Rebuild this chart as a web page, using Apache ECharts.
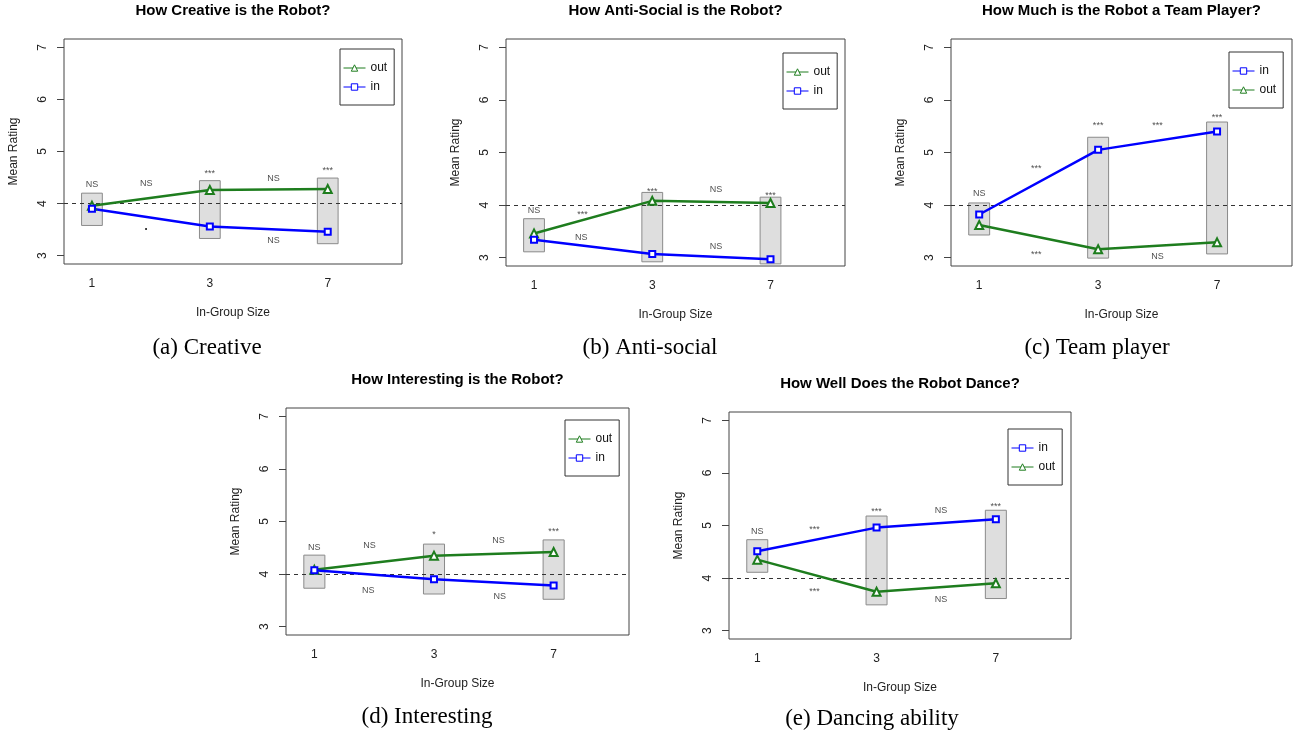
<!DOCTYPE html>
<html><head><meta charset="utf-8">
<script src="https://cdn.jsdelivr.net/npm/echarts@6/dist/echarts.min.js"></script>
<style>html,body{margin:0;padding:0;background:#fff}#c{width:1294px;height:738px}</style>
</head><body><div id="c"></div>
<script>
// ---------- DATA ----------
const xLabels = ['1', '3', '7'];
const xPositions = [1, 2, 3];
const yTicks = [3, 4, 5, 6, 7];
const referenceLine = 4;

// (a) Creative
const creativeOut = [3.96, 4.26, 4.28];
const creativeIn = [3.90, 3.56, 3.46];
const creativeLow = [3.58, 3.33, 3.23];
const creativeHigh = [4.20, 4.44, 4.49];
const creativeSig = [[1, 4.36, 'NS'], [1.46, 4.39, 'NS'], [1.46, 3.48, '.'], [2, 4.64, '***'], [2.54, 4.48, 'NS'], [3, 4.70, '***'], [2.54, 3.30, 'NS']];

// (b) Anti-social
const antiOut = [3.46, 4.08, 4.04];
const antiIn = [3.34, 3.07, 2.97];
const antiLow = [3.11, 2.92, 2.88];
const antiHigh = [3.74, 4.24, 4.15];
const antiSig = [[1, 3.89, 'NS'], [1.41, 3.87, '***'], [1.40, 3.38, 'NS'], [2, 4.32, '***'], [2.54, 4.29, 'NS'], [3, 4.24, '***'], [2.54, 3.22, 'NS']];

// (c) Team player
const teamIn = [3.82, 5.05, 5.40];
const teamOut = [3.62, 3.16, 3.29];
const teamLow = [3.43, 2.99, 3.07];
const teamHigh = [4.04, 5.29, 5.58];
const teamSig = [[1, 4.21, 'NS'], [1.48, 4.75, '***'], [1.48, 3.12, '***'], [2, 5.58, '***'], [2.50, 5.58, '***'], [3, 5.73, '***'], [2.50, 3.02, 'NS']];

// (d) Interesting
const interOut = [4.08, 4.35, 4.42];
const interIn = [4.07, 3.90, 3.78];
const interLow = [3.73, 3.62, 3.52];
const interHigh = [4.36, 4.57, 4.65];
const interSig = [[1, 4.51, 'NS'], [1.46, 4.55, 'NS'], [1.45, 3.69, 'NS'], [2, 4.80, '*'], [2.54, 4.64, 'NS'], [3, 4.86, '***'], [2.55, 3.58, 'NS']];

// (e) Dancing ability
const danceIn = [4.51, 4.96, 5.12];
const danceOut = [4.35, 3.74, 3.90];
const danceLow = [4.11, 3.49, 3.61];
const danceHigh = [4.73, 5.18, 5.29];
const danceSig = [[1, 4.89, 'NS'], [1.48, 4.98, '***'], [1.48, 3.80, '***'], [2, 5.32, '***'], [2.54, 5.29, 'NS'], [3, 5.41, '***'], [2.54, 3.59, 'NS']];

const titles = ['How Creative is the Robot?', 'How Anti-Social is the Robot?', 'How Much is the Robot a Team Player?', 'How Interesting is the Robot?', 'How Well Does the Robot Dance?'];
const captions = ['(a) Creative', '(b) Anti-social', '(c) Team player', '(d) Interesting', '(e) Dancing ability'];
const legendOrders = [['out', 'in'], ['out', 'in'], ['in', 'out'], ['out', 'in'], ['in', 'out']];
const yAxisName = 'Mean Rating';
const xAxisName = 'In-Group Size';

// ---------- LAYOUT / STYLE ----------
const panels = [
  { box: [64, 39, 338, 225], legend: [340, 49], caption: [207, 348], out: creativeOut, inn: creativeIn, low: creativeLow, high: creativeHigh, sig: creativeSig },
  { box: [506, 39, 339, 227], legend: [783, 53], caption: [650, 348], out: antiOut, inn: antiIn, low: antiLow, high: antiHigh, sig: antiSig },
  { box: [951, 39, 341, 227], legend: [1229, 52], caption: [1097, 348], out: teamOut, inn: teamIn, low: teamLow, high: teamHigh, sig: teamSig },
  { box: [286, 408, 343, 227], legend: [565, 420], caption: [427, 717], out: interOut, inn: interIn, low: interLow, high: interHigh, sig: interSig },
  { box: [729, 412, 342, 227], legend: [1008, 429], caption: [872, 719], out: danceOut, inn: danceIn, low: danceLow, high: danceHigh, sig: danceSig }
];
const X_MIN = 0.763, X_MAX = 3.63, Y_MIN = 2.84, Y_MAX = 7.16;
const BOX_HALF = 0.088;
const GREEN = '#1e7d1e', BLUE = '#0000ff';
const SANS = 'Liberation Sans, Arial, Helvetica, sans-serif';
const SERIF = 'Liberation Serif, Times New Roman, serif';

const grid = [], xAxis = [], yAxis = [], series = [], legend = [], graphic = [];

panels.forEach((p, i) => {
  const [l, t, w, h] = p.box;
  grid.push({ left: l, top: t, width: w, height: h, show: true, borderColor: '#444', borderWidth: 1, backgroundColor: 'transparent' });
  xAxis.push({
    gridIndex: i, type: 'value', min: X_MIN, max: X_MAX,
    axisLine: { show: false }, axisTick: { show: false }, splitLine: { show: false },
    axisLabel: { customValues: xPositions, margin: 14, color: '#222', fontSize: 12, fontFamily: SANS,
      formatter: v => xLabels[xPositions.indexOf(Math.round(v))] }
  });
  yAxis.push({
    gridIndex: i, type: 'value', min: Y_MIN, max: Y_MAX,
    axisLine: { show: false }, splitLine: { show: false },
    axisTick: { show: true, customValues: yTicks, length: 7, lineStyle: { color: '#444' } },
    axisLabel: { customValues: yTicks, rotate: 90, margin: 15, color: '#222', fontSize: 12, fontFamily: SANS }
  });
  series.push({
    type: 'custom', xAxisIndex: i, yAxisIndex: i, z: 1, silent: true,
    data: xPositions.map((x, j) => [x, p.low[j], p.high[j]]),
    renderItem: (params, api) => {
      const x = api.value(0);
      const a = api.coord([x - BOX_HALF, api.value(2)]);
      const b = api.coord([x + BOX_HALF, api.value(1)]);
      return { type: 'rect', shape: { x: a[0], y: a[1], width: b[0] - a[0], height: b[1] - a[1] },
        style: { fill: '#dedede', stroke: '#8a8a8a', lineWidth: 1 } };
    }
  });
  series.push({
    type: 'line', name: 'out', xAxisIndex: i, yAxisIndex: i, z: 3,
    data: xPositions.map((x, j) => [x, p.out[j]]),
    symbol: 'triangle', symbolSize: 8, showAllSymbol: true,
    lineStyle: { color: GREEN, width: 2.5 },
    itemStyle: { color: '#fff', borderColor: GREEN, borderWidth: 2 },
    emphasis: { disabled: true },
    markLine: { silent: true, symbol: 'none', label: { show: false }, z: 2,
      lineStyle: { color: '#333', width: 1, type: [4, 4] }, data: [{ yAxis: referenceLine }] }
  });
  series.push({
    type: 'line', name: 'in', xAxisIndex: i, yAxisIndex: i, z: 3,
    data: xPositions.map((x, j) => [x, p.inn[j]]),
    symbol: 'rect', symbolSize: 6, showAllSymbol: true,
    lineStyle: { color: BLUE, width: 2.5 },
    itemStyle: { color: '#fff', borderColor: BLUE, borderWidth: 2 },
    emphasis: { disabled: true }
  });
  series.push({
    type: 'scatter', xAxisIndex: i, yAxisIndex: i, z: 4, symbolSize: 0, silent: true,
    data: p.sig.map(s => ({
      value: [s[0], s[1]], name: s[2],
      label: s[2] === '.' ? { offset: [0, -4], fontSize: 13, fontWeight: 'bold', color: '#000' }
        : { offset: s[2].indexOf('*') >= 0 ? [0, 3] : [0, 0] }
    })),
    label: { show: true, position: 'inside', formatter: q => q.name, fontSize: 9, color: '#222', fontFamily: SANS }
  });
  legend.push({
    left: p.legend[0], top: p.legend[1], orient: 'vertical', selectedMode: false,
    data: legendOrders[i], borderColor: '#333', borderWidth: 1, padding: [12, 7, 11, 3],
    itemWidth: 22, itemHeight: 8, itemGap: 5,
    lineStyle: { width: 1 }, itemStyle: { borderWidth: 1 },
    textStyle: { fontSize: 12, color: '#111', fontFamily: SANS, lineHeight: 14 }
  });
  const cx = l + w / 2;
  graphic.push({ type: 'text', x: cx, y: t - 28, style: { text: titles[i], align: 'center', verticalAlign: 'middle', fill: '#000', font: 'bold 15px ' + SANS } });
  graphic.push({ type: 'text', x: cx, y: t + h + 49, style: { text: xAxisName, align: 'center', verticalAlign: 'middle', fill: '#222', font: '12px ' + SANS } });
  graphic.push({ type: 'text', x: l - 50, y: t + h / 2, rotation: Math.PI / 2, style: { text: yAxisName, align: 'center', verticalAlign: 'middle', fill: '#222', font: '12px ' + SANS } });
  graphic.push({ type: 'text', x: p.caption[0], y: p.caption[1], style: { text: captions[i], align: 'center', verticalAlign: 'middle', fill: '#000', font: '23px ' + SERIF } });
});

const chart = echarts.init(document.getElementById('c'), null, { renderer: 'canvas' });
chart.setOption({ animation: false, backgroundColor: '#fff', grid, xAxis, yAxis, series, legend, graphic });
</script>
</body></html>
